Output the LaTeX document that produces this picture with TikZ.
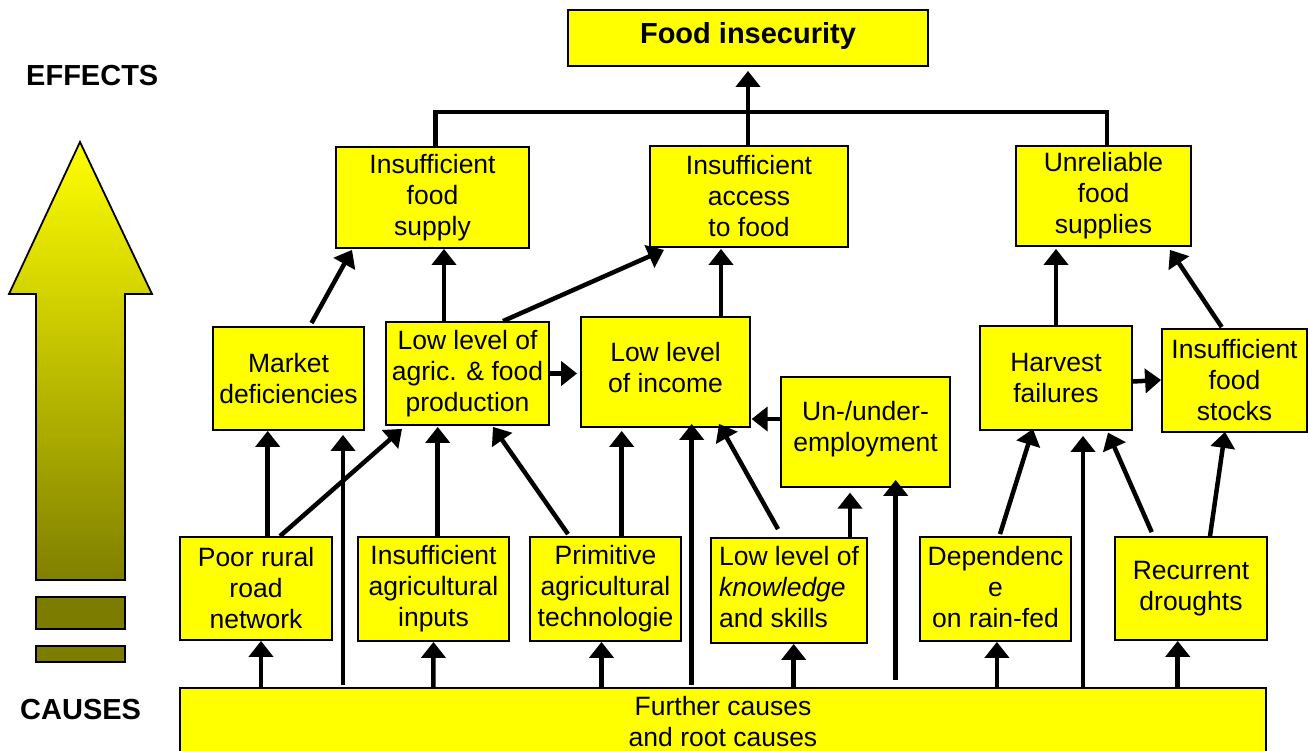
\documentclass[tikz,border=0pt]{standalone}
\usepackage{fontspec}
\setmainfont{Liberation Sans}
\usetikzlibrary{arrows.meta,calc}
\definecolor{boxyellow}{RGB}{255,255,0}
\definecolor{shaftolive}{RGB}{128,128,0}
\definecolor{barolive}{RGB}{124,124,0}

\begin{document}
\begin{tikzpicture}[x=1pt,y=-1pt,
  box/.style={draw=black, line width=1.8pt, fill=boxyellow, inner sep=0pt,
              align=center, font=\fontsize{26.5}{31}\selectfont},
  link/.style={line width=4.5pt, -{Triangle[width=24pt,length=16pt]}},
  plain/.style={line width=4.5pt, line join=miter},
  heading/.style={font=\fontsize{29}{34}\selectfont\bfseries, inner sep=0pt},
  bodytext/.style={font=\fontsize{26.5}{31}\selectfont, align=center, inner sep=0pt}
]
\useasboundingbox (0,0) rectangle (1308,751);

% ---- left side: direction arrow from causes to effects
\shadedraw[top color=boxyellow, bottom color=shaftolive, draw=black,
           line width=1.8pt, line join=miter]
  (80,142) -- (152,294) -- (125,294) -- (125,580) -- (36,580) -- (36,294) -- (9,294) -- cycle;
\draw[fill=barolive, line width=1.8pt] (36,597) rectangle (125,629);
\draw[fill=barolive, line width=1.8pt] (36,646) rectangle (125,662);
\node[heading, anchor=base west] (effects) at (26,86) {EFFECTS};
\node[heading, anchor=base west] (causes) at (20,719) {CAUSES};

% ---- top
\node[box, minimum width=360pt, minimum height=56pt] (fi) at (748,38) {};
\node[heading, anchor=base] (fitext) at (748,43.5) {Food insecurity};

% ---- effects row
\node[box, minimum width=193pt, minimum height=101pt] (supply) at (432.5,197.5) {Insufficient\\food\\supply};
\node[box, minimum width=198pt, minimum height=101pt] (access) at (749,196.5) {Insufficient\\access\\to food};
\node[box, minimum width=175pt, minimum height=100pt] (unrel) at (1103.5,196) {Unreliable\\food\\supplies};

% ---- intermediate row
\node[box, minimum width=151pt, minimum height=103pt] (market) at (288.5,378.5) {Market\\deficiencies};
\node[box, minimum width=163pt, minimum height=103pt] (agric) at (467.5,373.5) {Low level of\\agric. \& food\\production};
\node[box, minimum width=169pt, minimum height=110pt] (income) at (665.5,372) {};
\node[bodytext] (incometext) at ($(income.center)+(0,-4)$) {Low level\\of income};
\node[box, minimum width=169pt, minimum height=110pt] (unemp) at (865.5,432) {};
\node[bodytext] (unemptext) at ($(unemp.center)+(0,-3)$) {Un-/under-\\employment};
\node[box, minimum width=152pt, minimum height=104pt] (harvest) at (1056,378) {Harvest\\failures};
\node[box, minimum width=145pt, minimum height=103pt] (stocks) at (1234.5,380.5) {Insufficient\\food\\stocks};

% ---- causes row
\node[box, minimum width=152pt, minimum height=103pt] (poor) at (256,588.5) {Poor rural\\road\\network};
\node[box, minimum width=151pt, minimum height=104pt] (inputs) at (433.5,589) {Insufficient\\agricultural\\inputs};
\node[box, minimum width=151pt, minimum height=104pt] (prim) at (605.5,589) {Primitive\\agricultural\\technologie};
\node[box, minimum width=156pt, minimum height=105pt] (know) at (789,590.5) {};
\node[bodytext, align=left] (knowtext) at ($(know.center)+(0,-3)$) {Low level of\\\textit{knowledge}\\and skills};
\node[box, minimum width=151pt, minimum height=104pt] (dep) at (995.5,589) {};
\node[bodytext] (deptext) at ($(dep.center)+(0,-2)$) {Dependenc\\e\\on rain-fed};
\node[box, minimum width=152pt, minimum height=103pt] (recur) at (1191,588.5) {Recurrent\\droughts};

% ---- root causes
\node[box, minimum width=1086pt, minimum height=120pt, anchor=north] (further) at (723,687) {};
\node[bodytext] (furthertext) at (723,722) {Further causes\\and root causes};

% ---- links into the top box
\draw[plain] ($(supply.north)+(3,0)$) |- ($(unrel.north)+(3.5,-33)$) -- ($(unrel.north)+(3.5,0)$);
\draw[link] ($(access.north)+(-1,0)$) -- ($(fi.south)+(0,4)$);

% ---- links into the effects row
\draw[link] ($(market.north)+(23,-3)$) -- ($(supply.south)+(-80.5,1)$);
\draw[link] ($(agric.north)+(-23.5,0)$) -- ($(supply.south)+(11.5,0)$);
\draw[link] ($(agric.north)+(35.5,0)$) -- ($(access.south)+(-85,2)$);
\draw[link] ($(income.north)+(55.5,0)$) -- ($(access.south)+(-28,1)$);
\draw[link] (harvest.north) -- ($(unrel.south)+(-47.5,2)$);
\draw[link] ($(stocks.north)+(-12.8,-1)$) -- ($(unrel.south)+(66.5,3)$);

% ---- links within the intermediate row
\draw[link] (agric.east) -- ($(agric.east -| income.west)+(-3,0)$);
\draw[link] ($(unemp.west)+(0,-13)$) -- ($(unemp.west -| income.east)+(0.7,-13)$);
\draw[link] ($(harvest.east)+(0,3.5)$) -- ($(stocks.west)+(0,-0.5)$);

% ---- links from the causes row
\draw[link] ($(poor.north)+(11.7,0)$) -- ($(market.south)+(-20.8,0)$);
\draw[link] ($(poor.north)+(24,0)$) -- ($(agric.south)+(-65.5,3)$);
\draw[link] ($(inputs.north)+(4.2,0)$) -- ($(agric.south)+(-29.8,1)$);
\draw[link] ($(prim.north)+(-37.5,-2)$) -- ($(agric.south)+(25.5,1)$);
\draw[link] ($(prim.north)+(16.2,0)$) -- ($(income.south)+(-43.8,3)$);
\draw[link] ($(know.north)+(-11,-8)$) -- ($(income.south)+(53.5,-4)$);
\draw[link] ($(know.north)+(61,0)$) -- ($(unemp.south)+(-15.5,4.7)$);
\draw[link] ($(dep.north)+(4.5,-2)$) -- ($(harvest.south)+(-23,-2)$);
\draw[link] ($(recur.north)+(-39.3,-4)$) -- ($(harvest.south)+(52,1.7)$);
\draw[link] ($(recur.north)+(19,0)$) -- ($(stocks.south)+(-9.5,-1)$);

% ---- links from the root causes
\draw[link] ($(further.north)+(-380,-2)$) -- ($(market.south)+(54.5,4)$);
\draw[link] ($(further.north)+(-31.3,-2)$) -- ($(income.south)+(26.2,-4)$);
\draw[link] ($(further.north)+(172.7,-7)$) -- ($(unemp.south)+(30.2,-8)$);
\draw[link] ($(further.north)+(360,1)$) -- ($(harvest.south)+(27,5)$);
\draw[link] ($(further.north)+(-462,0)$) -- ($(poor.south)+(5,0)$);
\draw[link] ($(further.north)+(-289.6,0)$) -- (inputs.south);
\draw[link] ($(further.north)+(-121.5,0)$) -- ($(prim.south)+(-4,0)$);
\draw[link] ($(further.north)+(70.7,0)$) -- ($(know.south)+(4.7,0)$);
\draw[link] ($(further.north)+(273.9,0)$) -- ($(dep.south)+(1.4,0)$);
\draw[link] ($(further.north)+(454.7,0)$) -- ($(recur.south)+(-13.3,0)$);
\end{tikzpicture}
\end{document}
